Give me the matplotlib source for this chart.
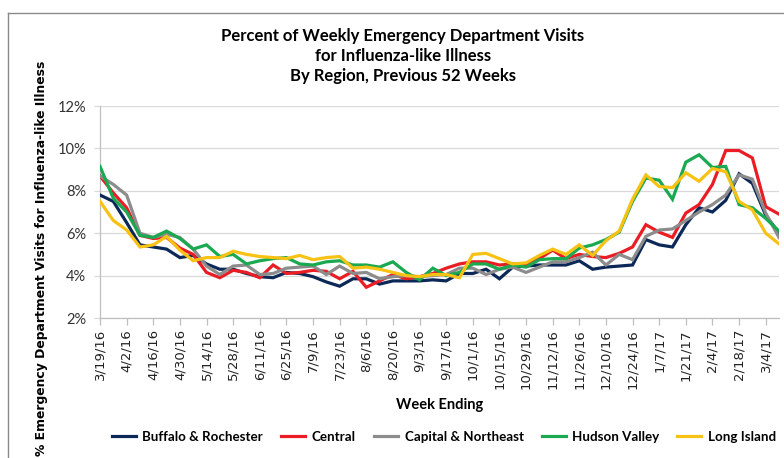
import matplotlib
matplotlib.use("Agg")
import matplotlib.pyplot as plt
from matplotlib.lines import Line2D
from matplotlib.ticker import FuncFormatter

# 52 weeks ending 3/19/16 .. 3/11/17
weeks = ["3/19/16", "3/26/16", "4/2/16", "4/9/16", "4/16/16", "4/23/16", "4/30/16",
         "5/7/16", "5/14/16", "5/21/16", "5/28/16", "6/4/16", "6/11/16", "6/18/16",
         "6/25/16", "7/2/16", "7/9/16", "7/16/16", "7/23/16", "7/30/16", "8/6/16",
         "8/13/16", "8/20/16", "8/27/16", "9/3/16", "9/10/16", "9/17/16", "9/24/16",
         "10/1/16", "10/8/16", "10/15/16", "10/22/16", "10/29/16", "11/5/16",
         "11/12/16", "11/19/16", "11/26/16", "12/3/16", "12/10/16", "12/17/16",
         "12/24/16", "12/31/16", "1/7/17", "1/14/17", "1/21/17", "1/28/17", "2/4/17",
         "2/11/17", "2/18/17", "2/25/17", "3/4/17", "3/11/17"]

buffalo = [7.8, 7.5, 6.5, 5.45, 5.35, 5.25, 4.85, 4.95, 4.55, 4.3,
           4.3, 4.1, 3.95, 3.9, 4.15, 4.1, 3.95, 3.7, 3.5, 3.85,
           3.85, 3.6, 3.75, 3.75, 3.75, 3.8, 3.75, 4.1, 4.1, 4.3,
           3.85, 4.4, 4.45, 4.5, 4.5, 4.5, 4.7, 4.3, 4.4, 4.45,
           4.5, 5.7, 5.45, 5.35, 6.4, 7.2, 7.0, 7.55, 8.8, 8.35,
           6.85, 6.0]
central = [8.7, 7.9, 7.2, 5.9, 5.75, 5.8, 5.3, 5.0, 4.15, 3.9,
           4.25, 4.15, 3.9, 4.5, 4.1, 4.15, 4.25, 4.2, 3.85, 4.2,
           3.45, 3.75, 4.05, 3.85, 3.95, 4.1, 4.35, 4.55, 4.65, 4.65,
           4.5, 4.55, 4.5, 4.8, 5.2, 4.8, 5.0, 4.9, 4.85, 5.05,
           5.35, 6.4, 6.05, 5.8, 6.95, 7.35, 8.3, 9.9, 9.9, 9.55,
           7.25, 6.9]
capital = [8.7, 8.3, 7.8, 6.0, 5.8, 5.95, 5.8, 5.25, 4.45, 4.05,
           4.45, 4.5, 4.05, 4.1, 4.35, 4.4, 4.45, 4.05, 4.45, 4.1,
           4.15, 3.85, 3.95, 4.0, 3.95, 4.0, 4.05, 4.35, 4.35, 4.05,
           4.3, 4.4, 4.15, 4.4, 4.65, 4.65, 4.85, 5.1, 4.5, 5.0,
           4.75, 5.85, 6.15, 6.2, 6.6, 7.0, 7.35, 7.8, 8.75, 8.55,
           6.95, 5.8]
hudson = [9.15, 7.65, 7.0, 5.9, 5.8, 6.1, 5.75, 5.25, 5.45, 4.9,
          5.0, 4.55, 4.7, 4.8, 4.85, 4.55, 4.5, 4.65, 4.7, 4.5,
          4.5, 4.4, 4.65, 4.15, 3.8, 4.35, 4.0, 4.15, 4.55, 4.55,
          4.3, 4.5, 4.4, 4.75, 4.8, 4.8, 5.3, 5.45, 5.7, 6.05,
          7.5, 8.6, 8.5, 7.6, 9.35, 9.7, 9.1, 9.15, 7.35, 7.2,
          6.7, 6.1]
long_island = [7.5, 6.6, 6.15, 5.35, 5.45, 5.85, 5.2, 4.7, 4.85, 4.85,
               5.15, 5.0, 4.9, 4.85, 4.8, 4.95, 4.75, 4.85, 4.9, 4.35,
               4.4, 4.3, 4.15, 4.0, 3.95, 4.05, 4.05, 3.9, 5.0, 5.05,
               4.8, 4.55, 4.6, 4.95, 5.25, 5.0, 5.45, 4.95, 5.65, 6.1,
               7.6, 8.75, 8.2, 8.15, 8.85, 8.45, 9.05, 8.9, 7.5, 7.1,
               6.0, 5.5]

SERIES = [
    ("Buffalo & Rochester", buffalo, "#0c2857"),
    ("Central", central, "#ea1c24"),
    ("Capital & Northeast", capital, "#8c8c8c"),
    ("Hudson Valley", hudson, "#1aa851"),
    ("Long Island", long_island, "#f7c214"),
]

W, H = 784, 458
fig = plt.figure(figsize=(W / 100, H / 100), dpi=100)
ax = fig.add_axes([100 / W, 1 - 318 / H, 679 / W, 212 / H])

x = list(range(len(weeks)))
for label, vals, color in SERIES:
    ax.plot(x, vals, color=color, linewidth=2.3, label=label,
            solid_joinstyle="miter", zorder=3)

ax.set_xlim(0, len(weeks) - 1)
ax.set_ylim(2, 12)
ax.set_yticks([2, 4, 6, 8, 10, 12])
ax.yaxis.set_major_formatter(FuncFormatter(lambda v, p: f"{v:.0f}%"))
ax.set_xticks(x[::2])
ax.set_xticklabels(weeks[::2], rotation=90, fontsize=9.5, color="#222222",
                   family="DejaVu Sans")
for t in ax.get_yticklabels():
    t.set_fontfamily("Lato")
    t.set_fontsize(10.5)
    t.set_color("#333333")

ax.grid(axis="y", color="#d9d9d9", linewidth=0.9, zorder=0)
for s in ["top", "right"]:
    ax.spines[s].set_visible(False)
for s in ["left", "bottom"]:
    ax.spines[s].set_color("#bfbfbf")
    ax.spines[s].set_linewidth(0.9)
ax.tick_params(axis="x", length=5, width=0.9, color="#bfbfbf", pad=3)
ax.tick_params(axis="y", length=4, width=0.9, color="#d9d9d9", pad=6)

fig.text(403 / W, 1 - 56 / H,
         "Percent of Weekly Emergency Department Visits\nfor Influenza-like Illness\nBy Region, Previous 52 Weeks",
         ha="center", va="center", fontsize=12, fontweight="bold", family="Lato",
         linespacing=1.3)
fig.text(42 / W, 1 - 258 / H, "% Emergency Department Visits for Influenza-like Illness",
         rotation=90, ha="center", va="center", fontsize=8.9, fontweight="bold",
         family="DejaVu Sans")
fig.text(440 / W, 1 - 405 / H, "Week Ending", ha="center", va="center",
         fontsize=10.5, fontweight="bold", family="Lato")

handles = [Line2D([], [], color=c, linewidth=2.3) for _, _, c in SERIES]
fig.legend(handles, [s[0] for s in SERIES], loc="center", ncol=5,
           bbox_to_anchor=(444 / W, 1 - 437 / H), frameon=False,
           prop={"family": "Lato", "weight": "bold", "size": 9.6},
           handlelength=1.8, handletextpad=0.5, columnspacing=1.35)

# outer chart border (only left and top visible in the crop)
fig.add_artist(Line2D([7.5 / W, 7.5 / W], [0, 1 - 13 / H], transform=fig.transFigure,
                      color="#8a8a8a", linewidth=1))
fig.add_artist(Line2D([7.5 / W, 1], [1 - 13 / H, 1 - 13 / H], transform=fig.transFigure,
                      color="#8a8a8a", linewidth=1))

fig.savefig("out.png", dpi=100)
